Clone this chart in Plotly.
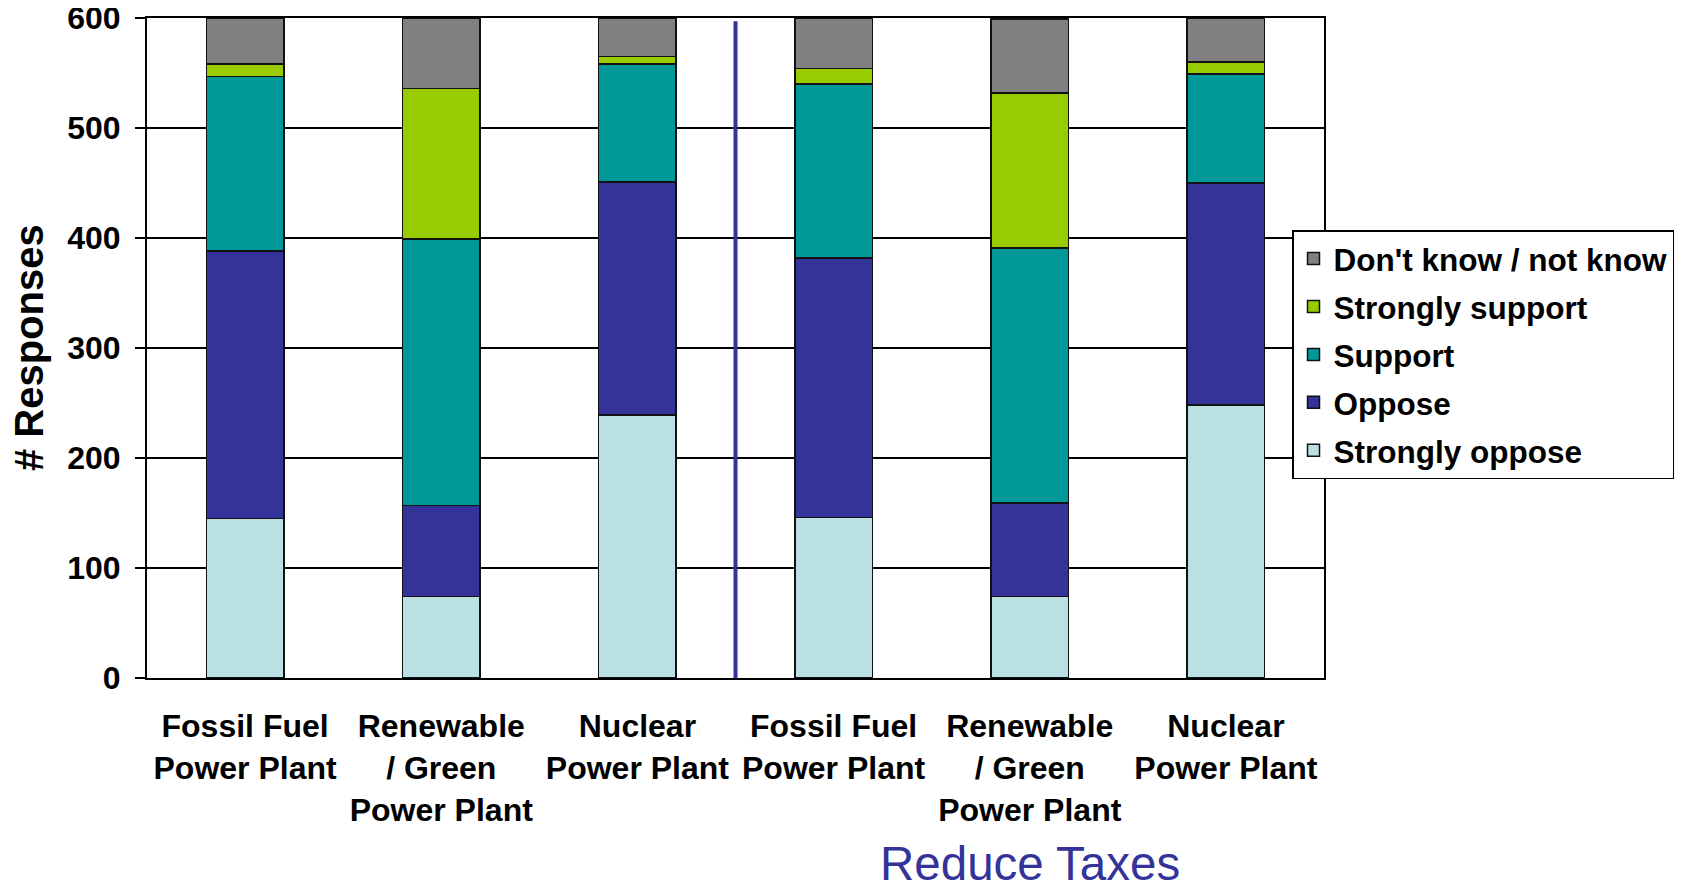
import plotly.graph_objects as go

categories = [
    "Fossil Fuel<br>Power Plant",
    "Renewable<br>/ Green<br>Power Plant",
    "Nuclear<br>Power Plant",
    "Fossil Fuel<br>Power Plant",
    "Renewable<br>/ Green<br>Power Plant",
    "Nuclear<br>Power Plant",
]
strongly_oppose = [145, 74, 239, 146, 74, 248]
oppose = [243, 83, 212, 236, 85, 202]
support = [159, 242, 107, 158, 232, 99]
strongly_support = [11, 137, 7, 14, 141, 11]
dont_know = [42, 64, 35, 46, 67, 40]

series = [
    ("Strongly oppose", strongly_oppose, "#BBE0E3"),
    ("Oppose", oppose, "#333399"),
    ("Support", support, "#009999"),
    ("Strongly support", strongly_support, "#99CC00"),
    ("Don't know / not know", dont_know, "#808080"),
]

FONT = "Liberation Sans, Arial, sans-serif"
xpos = list(range(len(categories)))

fig = go.Figure()
for i, (name, vals, col) in enumerate(series):
    fig.add_trace(go.Bar(
        x=xpos, y=vals, name=name, legendgroup=name,
        legendrank=len(series) - i,
        marker=dict(color=col, line=dict(color="#111111", width=1.5)),
    ))

# page body adds an 8px offset; figure coordinates below are screen - 8
W, H = 1676, 878
L, R, T, B = 139, 360, 10, 208
PW, PH = W - L - R, H - T - B

fig.update_layout(
    template="none",
    width=W, height=H,
    margin=dict(l=L, r=R, t=T, b=B, autoexpand=False),
    barmode="stack", bargap=0.605,
    plot_bgcolor="white", paper_bgcolor="white",
    font=dict(family=FONT, color="black"),
    showlegend=True,
    legend=dict(
        x=(1284 - L) / PW, xanchor="left",
        y=(H - B - 222) / PH, yanchor="top",
        traceorder="grouped",
        bgcolor="white", bordercolor="black", borderwidth=1.5,
        font=dict(family=FONT, size=31.5, weight="bold", color="black"),
        tracegroupgap=4,
    ),
    xaxis=dict(
        range=[-0.5, 5.5], tickmode="array", tickvals=xpos, ticktext=categories,
        tickfont=dict(family=FONT, size=32, weight="bold", color="black"),
        showline=True, linecolor="black", linewidth=2, mirror=True,
        showgrid=False, ticks="", ticklabelstandoff=19, zeroline=False,
        automargin=False,
    ),
    yaxis=dict(
        range=[0, 600], dtick=100,
        tickfont=dict(family=FONT, size=32, weight="bold", color="black"),
        showline=True, linecolor="black", linewidth=2, mirror=True,
        showgrid=True, gridcolor="black", gridwidth=1.5,
        ticks="outside", ticklen=10, tickwidth=2, tickcolor="black",
        ticklabelstandoff=8, zeroline=False, automargin=False,
        ticklabeloverflow="allow",
    ),
)

fig.add_shape(type="line", xref="x", yref="y", x0=2.5, x1=2.5, y0=0, y1=597,
              line=dict(color="#333399", width=4))

fig.add_annotation(text="# Responses", xref="paper", yref="paper",
                   x=(21 - L) / PW, y=0.5, xanchor="center", yanchor="middle",
                   textangle=-90, showarrow=False,
                   font=dict(family=FONT, size=40, weight="bold", color="black"))

fig.add_annotation(text="Reduce Taxes", xref="x", yref="paper",
                   x=4, y=(H - B - 855) / PH, xanchor="center", yanchor="middle",
                   showarrow=False,
                   font=dict(family=FONT, size=47.5, color="#333399"))

fig.write_html("out.html")
